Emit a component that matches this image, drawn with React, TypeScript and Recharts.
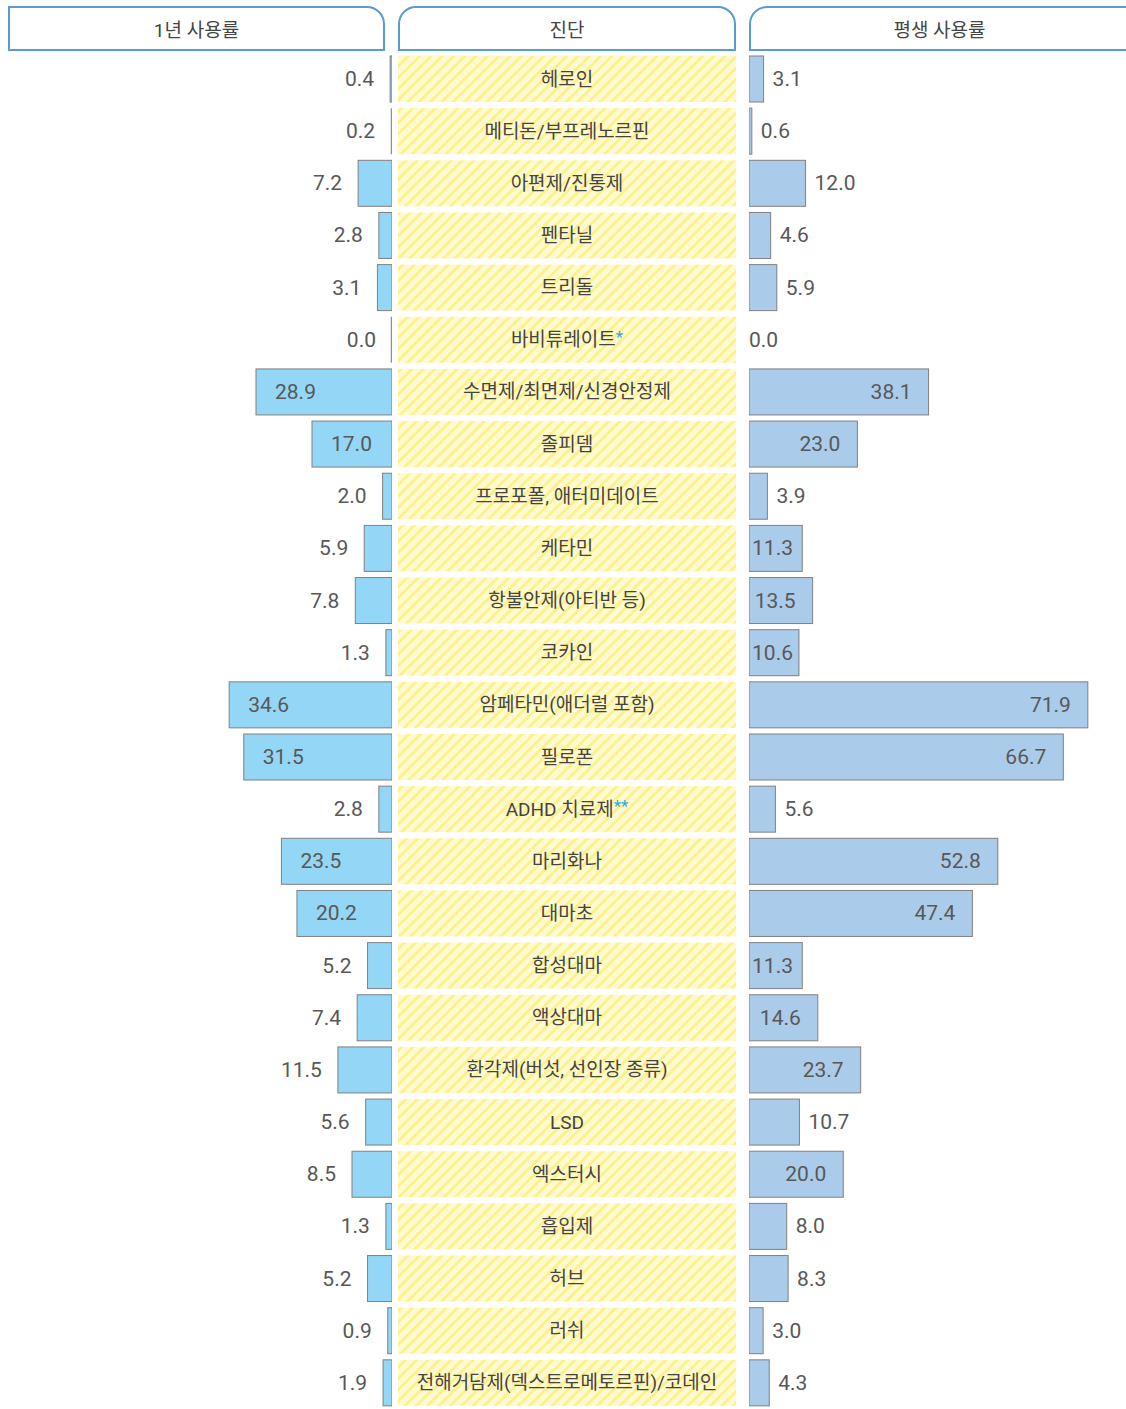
import { BarChart, Bar, XAxis, YAxis } from 'recharts';

// 26 substances, top to bottom
const categories = [
  '헤로인',
  '메티돈/부프레노르핀',
  '아편제/진통제',
  '펜타닐',
  '트리돌',
  '바비튜레이트*',
  '수면제/최면제/신경안정제',
  '졸피뎀',
  '프로포폴, 애터미데이트',
  '케타민',
  '항불안제(아티반 등)',
  '코카인',
  '암페타민(애더럴 포함)',
  '필로폰',
  'ADHD 치료제**',
  '마리화나',
  '대마초',
  '합성대마',
  '액상대마',
  '환각제(버섯, 선인장 종류)',
  'LSD',
  '엑스터시',
  '흡입제',
  '허브',
  '러쉬',
  '전해거담제(덱스트로메토르핀)/코데인',
];

const yearRates = [
  0.4, 0.2, 7.2, 2.8, 3.1, 0.0, 28.9, 17.0, 2.0, 5.9, 7.8, 1.3, 34.6,
  31.5, 2.8, 23.5, 20.2, 5.2, 7.4, 11.5, 5.6, 8.5, 1.3, 5.2, 0.9, 1.9,
];

const lifetimeRates = [
  3.1, 0.6, 12.0, 4.6, 5.9, 0.0, 38.1, 23.0, 3.9, 11.3, 13.5, 10.6, 71.9,
  66.7, 5.6, 52.8, 47.4, 11.3, 14.6, 23.7, 10.7, 20.0, 8.0, 8.3, 3.0, 4.3,
];

const headers = ['1년 사용률', '진단', '평생 사용률'];

const data = categories.map((name, i) => ({
  name,
  year: yearRates[i],
  lifetime: lifetimeRates[i],
}));

const FONT = "Roboto, 'Noto Sans CJK KR', sans-serif";
const TEXT = '#585858';
const BORDER = '#5b9bd5';
const CHART_TOP = 53;
const CHART_H = 1356;
const BAR_SIZE = 46;
const VALUE_SIZE = 21;

// left side: bars grow leftwards, label inside when the bar is long
function YearBar(props: any) {
  const { x, y, width, height, payload } = props;
  const left = Math.min(x, x + width);
  const right = Math.max(x, x + width);
  const w = right - left;
  const v = payload.year;
  const inside = v >= 15;
  const cy = y + height / 2;
  return (
    <g>
      {w >= 1 ? (
        <rect x={left} y={y} width={w} height={height} fill="#93d6f5" stroke="#808080" strokeWidth={1} />
      ) : (
        <line x1={right - 0.5} x2={right - 0.5} y1={y} y2={y + height} stroke="#909090" strokeWidth={1.5} />
      )}
      <text
        x={inside ? left + 19 : left - 16}
        y={cy}
        textAnchor={inside ? 'start' : 'end'}
        dominantBaseline="central"
        fontSize={VALUE_SIZE}
        fill={TEXT}
        fontFamily={FONT}
      >
        {v.toFixed(1)}
      </text>
    </g>
  );
}

// right side: bars grow rightwards
function LifetimeBar(props: any) {
  const { x, y, width, height, payload } = props;
  const left = Math.min(x, x + width);
  const w = Math.abs(width);
  const right = left + w;
  const v = payload.lifetime;
  const inside = v >= 10.5 && v !== 12.0 && v !== 10.7;
  const cy = y + height / 2;
  const labelEnd = Math.max(right - 17, left + 44);
  return (
    <g>
      {w >= 1 && (
        <rect x={left} y={y} width={w} height={height} fill="#abcbea" stroke="#808080" strokeWidth={1} />
      )}
      <text
        x={inside ? labelEnd : v === 0 ? left : right + 9}
        y={cy}
        textAnchor={inside ? 'end' : 'start'}
        dominantBaseline="central"
        fontSize={VALUE_SIZE}
        fill={TEXT}
        fontFamily={FONT}
      >
        {v.toFixed(1)}
      </text>
    </g>
  );
}

// middle: hatched box with the substance name
function CategoryBox(props: any) {
  const { x, y, width, height, payload } = props;
  const name: string = payload.name;
  const m = name.match(/^(.*?)(\*+)$/);
  const main = m ? m[1] : name;
  const stars = m ? m[2] : '';
  return (
    <g>
      <rect x={x} y={y} width={width} height={height} fill="url(#hatch)" />
      <text
        x={x + width / 2}
        y={y + height / 2}
        textAnchor="middle"
        dominantBaseline="central"
        fontSize={19}
        fill="#444444"
        fontFamily={FONT}
      >
        {main}
        {stars && (
          <tspan fill="#2ea7e0" fontSize={17} dy={-3}>
            {stars}
          </tspan>
        )}
      </text>
    </g>
  );
}

const headerBase = {
  position: 'absolute' as const,
  top: 6,
  height: 45,
  boxSizing: 'border-box' as const,
  border: `2px solid ${BORDER}`,
  background: '#fff',
  display: 'flex',
  alignItems: 'center',
  justifyContent: 'center',
  fontSize: 19,
  color: '#444',
  fontFamily: FONT,
};

export default function App() {
  return (
    <div
      style={{
        position: 'absolute',
        left: 0,
        top: 0,
        width: 1126,
        height: 1409,
        overflow: 'hidden',
        background: '#fff',
        fontFamily: FONT,
      }}
    >
      <div style={{ ...headerBase, left: 8, width: 377, borderTopRightRadius: 18 }}>{headers[0]}</div>
      <div style={{ ...headerBase, left: 398, width: 338, borderTopLeftRadius: 18, borderTopRightRadius: 18 }}>
        {headers[1]}
      </div>
      <div style={{ ...headerBase, left: 749, width: 381, borderTopLeftRadius: 18 }}>{headers[2]}</div>

      {/* 1-year usage */}
      <div style={{ position: 'absolute', left: 0, top: CHART_TOP }}>
        <BarChart width={392} height={CHART_H} data={data} layout="vertical" margin={{ top: 0, right: 0, bottom: 0, left: 0 }}>
          <XAxis type="number" domain={[0, 83.3]} reversed hide />
          <YAxis type="category" dataKey="name" hide />
          <Bar dataKey="year" barSize={BAR_SIZE} shape={YearBar} isAnimationActive={false} />
        </BarChart>
      </div>

      {/* diagnosis names */}
      <div style={{ position: 'absolute', left: 398, top: CHART_TOP }}>
        <BarChart width={338} height={CHART_H} data={data} layout="vertical" margin={{ top: 0, right: 0, bottom: 0, left: 0 }}>
          <defs>
            <pattern id="hatch" patternUnits="userSpaceOnUse" width={8} height={8} patternTransform="rotate(45)">
              <rect width={8} height={8} fill="#fffbd0" />
              <rect width={3} height={8} fill="#fff08e" />
            </pattern>
          </defs>
          <XAxis type="number" domain={[0, 1]} hide />
          <YAxis type="category" dataKey="name" hide />
          <Bar dataKey={() => 1} barSize={BAR_SIZE} shape={CategoryBox} isAnimationActive={false} />
        </BarChart>
      </div>

      {/* lifetime usage */}
      <div style={{ position: 'absolute', left: 749, top: CHART_TOP }}>
        <BarChart width={377} height={CHART_H} data={data} layout="vertical" margin={{ top: 0, right: 0, bottom: 0, left: 0 }}>
          <XAxis type="number" domain={[0, 80]} hide />
          <YAxis type="category" dataKey="name" hide />
          <Bar dataKey="lifetime" barSize={BAR_SIZE} shape={LifetimeBar} isAnimationActive={false} />
        </BarChart>
      </div>
    </div>
  );
}
